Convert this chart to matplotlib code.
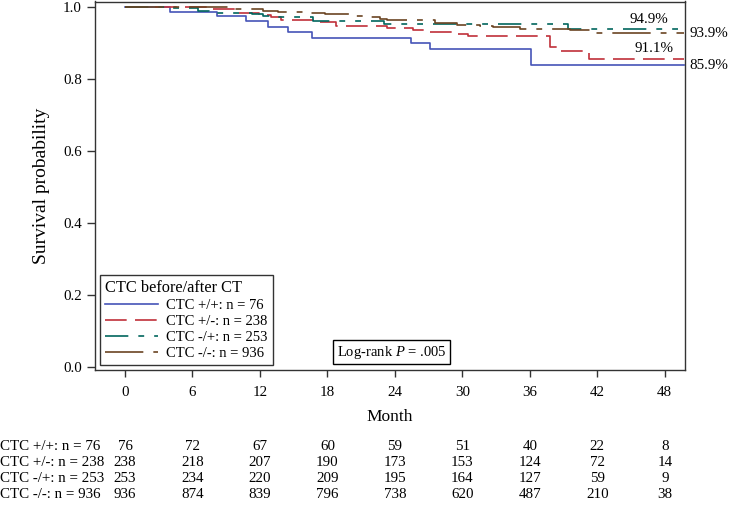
import matplotlib
matplotlib.use("Agg")
import matplotlib.pyplot as plt
from matplotlib.transforms import blended_transform_factory

plt.rcParams['font.family'] = ['Liberation Serif', 'DejaVu Serif']
plt.rcParams['mathtext.fontset'] = 'custom'
plt.rcParams['mathtext.rm'] = 'Liberation Serif'
plt.rcParams['mathtext.it'] = 'Liberation Serif:italic'

# ---- data ----
groups = ["CTC +/+: n = 76", "CTC +/-: n = 238", "CTC -/+: n = 253", "CTC -/-: n = 936"]

t_pp = [0, 4.0, 8.2, 10.8, 12.7, 14.5, 16.6, 25.4, 27.1, 36.1]
s_pp = [1.0, 0.985, 0.973, 0.959, 0.944, 0.929, 0.913, 0.899, 0.883, 0.837]

t_pm = [0, 7.6, 10.0, 11.9, 13.0, 13.9, 16.7, 18.8, 23.3, 25.6, 26.7, 29.5, 30.5, 37.8, 38.4, 41.3]
s_pm = [1.0, 0.992, 0.983, 0.976, 0.970, 0.962, 0.956, 0.946, 0.941, 0.934, 0.930, 0.923, 0.918, 0.887, 0.877, 0.856]

t_mp = [0, 4.0, 6.5, 7.5, 11.3, 12.3, 13.0, 16.7, 23.0, 39.4]
s_mp = [1.0, 0.997, 0.987, 0.983, 0.979, 0.974, 0.970, 0.960, 0.953, 0.939]

t_mm = [0, 8.1, 9.3, 10.7, 12.3, 13.6, 16.3, 17.8, 20.3, 21.3, 22.7, 23.3, 27.6, 29.5, 31.6, 32.7, 35.1, 39.6, 41.8]
s_mm = [1.0, 0.998, 0.994, 0.992, 0.989, 0.985, 0.982, 0.979, 0.974, 0.970, 0.965, 0.962, 0.955, 0.950, 0.946, 0.942, 0.939, 0.934, 0.928]

end_time = 49.7

risk_times = [0, 6, 12, 18, 24, 30, 36, 42, 48]
risk_pp = [76, 72, 67, 60, 59, 51, 40, 22, 8]
risk_pm = [238, 218, 207, 190, 173, 153, 124, 72, 14]
risk_mp = [253, 234, 220, 209, 195, 164, 127, 59, 9]
risk_mm = [936, 874, 839, 796, 738, 620, 487, 210, 38]

end_labels = ["94.9%", "93.9%", "91.1%", "85.9%"]

# ---- style ----
colors = ['#4654B8', '#C0303A', '#01665E', '#6B4423']
dashes = [None, (13, 5), (14, 6, 3.5, 6, 3.5, 6), (23, 6, 3.5, 6)]

fig = plt.figure(figsize=(7.3, 5.09), dpi=100)
W, H = 730, 509
ax = fig.add_axes([95 / W, 1 - 370 / H, (685 - 95) / W, (370 - 1.5) / H])

series = [(t_pp, s_pp), (t_pm, s_pm), (t_mp, s_mp), (t_mm, s_mm)]
handles = []
for (t, s), c, d, lab in zip(series, colors, dashes, groups):
    xs = list(t) + [end_time]
    ys = list(s) + [s[-1]]
    line, = ax.step(xs, ys, where='post', color=c, lw=1.2, label=lab)
    if d is not None:
        line.set_dashes(d)
    handles.append(line)

ax.set_xlim(-2.67, 49.8)
ax.set_ylim(-0.007, 1.014)
ax.set_xticks(risk_times)
ax.set_yticks([0.0, 0.2, 0.4, 0.6, 0.8, 1.0])
ax.set_yticklabels(["0.0", "0.2", "0.4", "0.6", "0.8", "1.0"])
ax.tick_params(axis='both', direction='out', width=1, labelsize=10.8, color='#333333')
ax.tick_params(axis='y', length=6, pad=3.5)
ax.tick_params(axis='x', length=5, pad=6.5)
for sp in ax.spines.values():
    sp.set_color('#333333')
    sp.set_linewidth(1.0)

ax.set_ylabel("Survival probability", fontsize=14, labelpad=9)
ax.set_xlabel("Month", fontsize=12.5, labelpad=7)

leg = ax.legend(handles=handles, loc='lower left', title="CTC before/after CT",
                fontsize=10.5, title_fontsize=11.8, frameon=True, fancybox=False,
                edgecolor='black', handlelength=3.6, borderaxespad=0.35,
                labelspacing=0.18, borderpad=0.35, handletextpad=0.6)
leg._legend_box.align = "left"
leg.get_frame().set_linewidth(1.0)

ax.text(0.41, 0.025, r"Log-rank $P$ = .005", transform=ax.transAxes, fontsize=10.5,
        ha='left', va='bottom',
        bbox=dict(boxstyle='square,pad=0.25', facecolor='white', edgecolor='black', lw=1.0))

# end annotations
ax.text(46.6, 0.947, end_labels[0], ha='center', va='bottom', fontsize=10.8, clip_on=False)
ax.text(50.2, 0.926, end_labels[1], ha='left', va='center', fontsize=10.8, clip_on=False)
ax.text(47.0, 0.865, end_labels[2], ha='center', va='bottom', fontsize=10.8, clip_on=False)
ax.text(50.2, 0.838, end_labels[3], ha='left', va='center', fontsize=10.8, clip_on=False)

# risk table
tr = blended_transform_factory(ax.transData, fig.transFigure)
row_y = [446, 462, 478, 494]
for lab, vals, yp in zip(groups, [risk_pp, risk_pm, risk_mp, risk_mm], row_y):
    yf = 1 - yp / H
    fig.text(0.0, yf, lab, ha='left', va='center', fontsize=10.8)
    for tt, v in zip(risk_times, vals):
        fig.text(tt, yf, str(v), ha='center', va='center', fontsize=10.8, transform=tr)

fig.savefig("out.png", dpi=100)
